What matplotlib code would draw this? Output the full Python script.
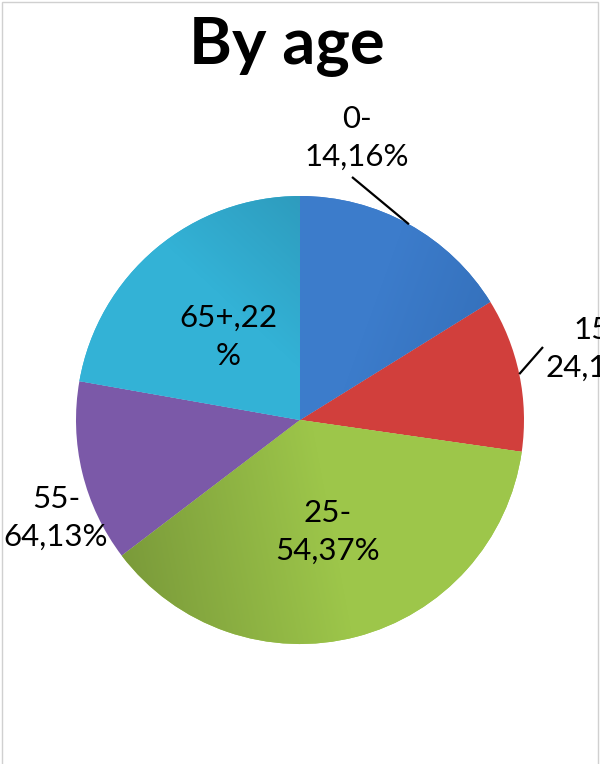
import numpy as np
import matplotlib
matplotlib.use('Agg')
import matplotlib.pyplot as plt
from matplotlib.patches import Rectangle
from matplotlib.colors import to_rgb

# data
categories = ['0-14', '15-24', '25-54', '55-64', '65+']
shares = [16, 11, 37, 13, 22]
colors = ['#3C7CCB', '#D13F3C', '#9DC64A', '#7B59A8', '#33B2D6']
title = 'By age'

W, H = 600, 764
CX, CY, R = 300, 420, 224   # pie centre / radius in pixels (y down)

plt.rcParams['font.family'] = ['Lato', 'DejaVu Sans']

fig = plt.figure(figsize=(W / 100, H / 100), dpi=100)
ax = fig.add_axes([0, 0, 1, 1])


def py(y):
    # pixel row -> data y
    return H - y


wedges, _ = ax.pie(shares, colors=colors, startangle=90, counterclock=False,
                   center=(CX, py(CY)), radius=R, frame=True,
                   wedgeprops=dict(linewidth=0))
ax.set_xlim(0, W)
ax.set_ylim(0, H)
ax.set_aspect('equal')
ax.axis('off')

# subtle shading like the office chart style: (from px, to px, dark colour)
shading = {
    0: ((500, 300), (390, 260), '#3571BC'),
    2: ((120, 560), (330, 520), '#7A9A3A'),
    4: ((300, 198), (215, 290), '#2E9CBE'),
}
yy, xx = np.mgrid[0:H, 0:W]
for i, (p0, p1, dark) in shading.items():
    v = np.array(p1, float) - np.array(p0, float)
    t = ((xx - p0[0]) * v[0] + (yy - p0[1]) * v[1]) / (v @ v)
    t = np.clip(t, 0, 1)[..., None]
    c0 = np.array(to_rgb(dark))
    c1 = np.array(to_rgb(colors[i]))
    img = c0 * (1 - t) + c1 * t
    im = ax.imshow(img, extent=(0, W, 0, H), origin='upper', zorder=1.5,
                   interpolation='bilinear')
    im.set_clip_path(wedges[i])


def label_text(cat, val):
    s = f'{cat},{val}%'
    if '-' in cat:
        k = s.index('-') + 1
        return s[:k] + '\n' + s[k:]
    return s[:-1] + '\n' + s[-1]


# label centres in pixels, and leader-line end points for outside labels
label_pos = [(357, 138), (598, 349), (328, 532), (56, 518), (228, 337)]
leader_end = {0: (352, 177), 1: (543, 347)}

for i, w in enumerate(wedges):
    x, y = label_pos[i]
    ax.text(x, py(y), label_text(categories[i], shares[i]), ha='center',
            va='center', fontsize=22.5, color='black', linespacing=1.42,
            zorder=5)
    if i in leader_end:
        mid = np.deg2rad((w.theta1 + w.theta2) / 2)
        ex, ey = CX + R * np.cos(mid), py(CY) + R * np.sin(mid)
        lx, ly = leader_end[i]
        ax.plot([ex, lx], [ey, py(ly)], color='black', lw=1.6, zorder=5,
                solid_capstyle='butt')

ax.text(W / 2 - 13, py(47), title, ha='center', va='center', fontsize=47,
        fontweight='bold', color='black')

ax.add_patch(Rectangle((1.5, -5), 596.5, H - 1.5 + 5, fill=False,
                       edgecolor='#D0D0D0', lw=1, zorder=0.5))

fig.savefig('out.png', dpi=100)
